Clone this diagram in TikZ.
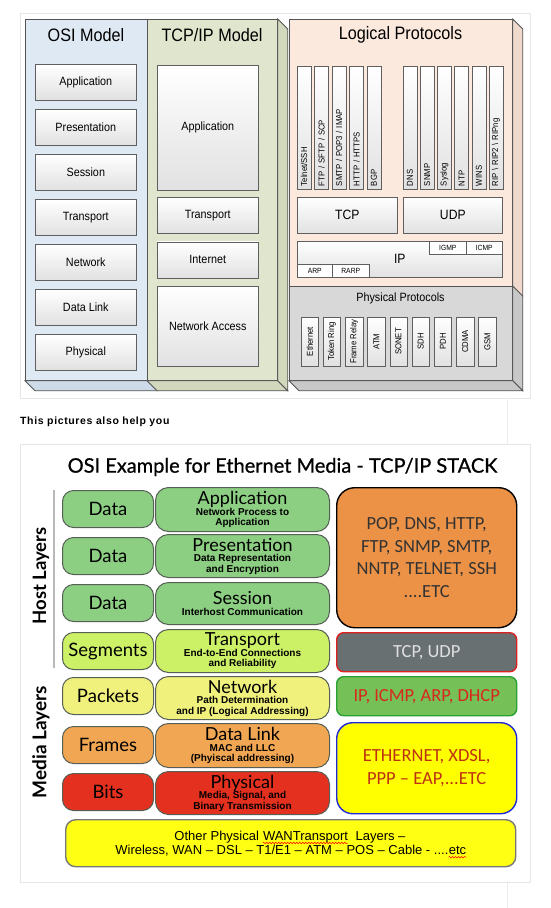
\documentclass[tikz,border=0pt]{standalone}
\usepackage{fontspec}
\setmainfont{Liberation Sans}[FakeStretch=0.9]
\newfontfamily\arialfont{Liberation Sans}
\newfontfamily\spacedfont{Liberation Sans}[LetterSpace=6.0]
\newfontfamily\gill{Lato}
\newfontfamily\gillheavy{Lato}[FakeBold=0.8]
\newfontfamily\calib{Carlito}
\usepackage{tikz}
\usetikzlibrary{positioning}
\usetikzlibrary{decorations.pathmorphing}

\definecolor{framegray}{RGB}{230,230,230}
\definecolor{pageline}{RGB}{236,236,236}
\definecolor{panelline}{RGB}{85,85,85}
\definecolor{boxline}{RGB}{95,95,95}
\definecolor{boxgray}{RGB}{225,225,225}
\definecolor{osiblue}{RGB}{222,233,244}
\definecolor{osiside}{RGB}{205,218,232}
\definecolor{tcpolive}{RGB}{224,229,205}
\definecolor{tcpside}{RGB}{210,216,188}
\definecolor{logpeach}{RGB}{251,233,222}
\definecolor{logside}{RGB}{240,218,205}
\definecolor{physgray}{RGB}{216,216,216}
\definecolor{physside}{RGB}{200,200,200}
\definecolor{layerline}{RGB}{85,95,85}
\definecolor{hostgreen}{RGB}{140,206,130}
\definecolor{translime}{RGB}{204,240,102}
\definecolor{netyellow}{RGB}{240,240,125}
\definecolor{linkorange}{RGB}{240,166,82}
\definecolor{phyred}{RGB}{228,48,30}
\definecolor{appsorange}{RGB}{236,146,70}
\definecolor{tcpgray}{RGB}{104,112,114}
\definecolor{tcpred}{RGB}{222,32,32}
\definecolor{ipgreen}{RGB}{118,192,88}
\definecolor{ipborder}{RGB}{40,160,50}
\definecolor{ipred}{RGB}{215,40,30}
\definecolor{ethyellow}{RGB}{255,255,0}
\definecolor{ethblue}{RGB}{30,40,215}
\definecolor{ethred}{RGB}{190,50,20}
\definecolor{wanyellow}{RGB}{255,255,20}
\definecolor{wanborder}{RGB}{120,120,120}

% layer names in the second picture
\newcommand{\lnamefont}{\gill\mdseries\fontsize{18}{18}\selectfont}

\begin{document}
\begin{tikzpicture}[x=1pt,y=-1pt,
  panel/.style={draw=panelline,line width=0.8pt,anchor=north west,inner sep=0pt},
  side/.style={draw=panelline,line width=0.8pt},
  paneltitle/.style={font=\fontsize{18}{20}\selectfont},
  osibox/.style={draw=boxline,line width=0.6pt,top color=white,bottom color=boxgray,minimum width=101pt,minimum height=36pt,inner sep=0pt,anchor=north west,font=\fontsize{12}{14}\selectfont},
  protobox/.style={osibox,font=\fontsize{13.5}{16}\selectfont},
  tinybox/.style={draw=boxline,line width=0.5pt,fill=white,minimum height=13pt,inner sep=0pt,anchor=north west,font=\fontsize{7.5}{8}\selectfont},
  vbox/.style={draw=boxline,line width=0.5pt,top color=white,bottom color=boxgray,rotate=90,minimum width=123pt,minimum height=14pt,text width=117pt,align=left,inner xsep=3pt,inner ysep=0pt,font=\fontsize{8.6}{9}\selectfont},
  pbox/.style={draw=boxline,line width=0.5pt,top color=white,bottom color=boxgray,rotate=90,minimum width=49pt,minimum height=17.5pt,inner sep=0.5pt,font=\fontsize{8.6}{9}\selectfont},
  pdu/.style={draw=layerline,line width=1pt,rounded corners=11pt,minimum width=91pt,minimum height=37pt,inner sep=0pt,anchor=north west,font=\gill\fontsize{18.5}{19}\selectfont},
  layer/.style={draw=layerline,line width=1pt,rounded corners=13pt,minimum width=174pt,minimum height=43pt,inner sep=0pt,anchor=north west,align=center,font=\arialfont\bfseries\fontsize{10}{10.5}\selectfont},
  proto/.style={line width=1.4pt,rounded corners=7pt,minimum width=180pt,inner sep=0pt,anchor=north west,align=center,font=\calib\fontsize{18.5}{22.5}\selectfont},
  wantext/.style={inner sep=0pt,font=\arialfont\fontsize{13}{14}\selectfont},
  spellwave/.style={red,line width=0.5pt,decorate,decoration={snake,amplitude=0.8pt,segment length=3pt}}]

  \useasboundingbox (0,0) rectangle (550,908);

  %% first picture
  \draw[framegray,line width=1pt,fill=white] (20,13) rectangle (530,398);
  \draw[pageline,line width=0.8pt] (507,398) -- (507,444);
  \draw[pageline,line width=0.8pt] (507,882) -- (507,908);

  \node[panel,fill=osiblue,minimum width=122pt,minimum height=361pt] (osi) at (25,19) {};
  \node[panel,fill=tcpolive,minimum width=130pt,minimum height=361pt] (tcpip) at (147,19) {};
  \node[panel,fill=logpeach,minimum width=223pt,minimum height=267pt] (logic) at (289,19) {};
  \node[panel,fill=physgray,minimum width=223pt,minimum height=94pt] (phys) at (289,286) {};

  \filldraw[side,fill=osiside] (osi.south west) -- ++(10,10) -- ([shift={(10,10)}]osi.south east) -- (osi.south east) -- cycle;
  \filldraw[side,fill=tcpside] (tcpip.south west) -- ++(10,10) -- ([shift={(10,10)}]tcpip.south east) -- (tcpip.south east) -- cycle;
  \filldraw[side,fill=tcpside] (tcpip.north east) -- ++(10,10) -- ([shift={(10,10)}]tcpip.south east) -- (tcpip.south east) -- cycle;
  \filldraw[side,fill=logside] (logic.north east) -- ++(10,10) -- ([shift={(10,10)}]logic.south east) -- (logic.south east) -- cycle;
  \filldraw[side,fill=physside] (phys.north east) -- ++(10,10) -- ([shift={(10,10)}]phys.south east) -- (phys.south east) -- cycle;
  \filldraw[side,fill=physside] (phys.south west) -- ++(10,10) -- ([shift={(10,10)}]phys.south east) -- (phys.south east) -- cycle;

  \node[paneltitle] (ositext) at (86,35) {OSI Model};
  \node[paneltitle] (tcptext) at (212,35) {TCP/IP Model};
  \node[paneltitle] (logtext) at (400.5,35) {Logical Protocols};
  \node[font=\fontsize{12}{14}\selectfont] (phystext) at (400.5,298) {Physical Protocols};

  \node[osibox] (oapp) at (35,64) {Application};
  \node[osibox,below=8.4pt of oapp] (opres) {Presentation};
  \node[osibox,below=8.4pt of opres] (osess) {Session};
  \node[osibox,below=8.4pt of osess] (otrans) {Transport};
  \node[osibox,below=8.4pt of otrans] (onet) {Network};
  \node[osibox,below=8.4pt of onet] (olink) {Data Link};
  \node[osibox,below=8.4pt of olink] (ophys) {Physical};

  \node[osibox,minimum height=125pt] (tapp) at (157,65) {Application};
  \node[osibox] (ttrans) at (157,197.2) {Transport};
  \node[osibox] (tinet) at (157,241.6) {Internet};
  \node[osibox,minimum height=80.4pt] (tnet) at (157,286) {Network Access};

  \node[vbox] (telnet) at (304,127.5) {Telnet/SSH};
  \node[vbox] (ftp) at (321.5,127.5) {FTP / SFTP / SCP};
  \node[vbox] (smtp) at (339,127.5) {SMTP / POP3 / IMAP};
  \node[vbox] (http) at (356.5,127.5) {HTTP / HTTPS};
  \node[vbox] (bgp) at (374,127.5) {BGP};
  \node[vbox] (dns) at (410,127.5) {DNS};
  \node[vbox] (snmp) at (427.2,127.5) {SNMP};
  \node[vbox] (syslog) at (444.4,127.5) {Syslog};
  \node[vbox] (ntp) at (461.6,127.5) {NTP};
  \node[vbox] (wins) at (478.8,127.5) {WINS};
  \node[vbox] (rip) at (496,127.5) {RIP \textbackslash\ RIP2 \textbackslash\ RIPng};

  \node[protobox,minimum width=100pt] (tcp) at (297,197) {TCP};
  \node[protobox,minimum width=99pt] (udp) at (403,197) {UDP};
  \node[protobox,minimum width=205pt] (ip) at (297,241) {IP};
  \node[tinybox,minimum width=37pt] (igmp) at (429,241) {IGMP};
  \node[tinybox,minimum width=36pt] (icmp) at (466,241) {ICMP};
  \node[tinybox,minimum width=35pt] (arp) at (297,264) {ARP};
  \node[tinybox,minimum width=37pt] (rarp) at (332,264) {RARP};

  \node[pbox] (ethernet) at (309.7,341.5) {Ethernet};
  \node[pbox] (token) at (331.9,341.5) {Token Ring};
  \node[pbox] (frame) at (354.1,341.5) {Frame Relay};
  \node[pbox] (atm) at (376.3,341.5) {ATM};
  \node[pbox] (sonet) at (398.5,341.5) {SONET};
  \node[pbox] (sdh) at (420.7,341.5) {SDH};
  \node[pbox] (pdh) at (442.9,341.5) {PDH};
  \node[pbox] (cdma) at (465.1,341.5) {CDMA};
  \node[pbox] (gsm) at (487.3,341.5) {GSM};

  \node[anchor=west,inner sep=0pt,font=\spacedfont\bfseries\fontsize{10.5}{12}\selectfont] (help) at (20,422) {This pictures also help you};

  %% second picture
  \draw[framegray,line width=1pt,fill=white] (20,444) rectangle (530,882);
  \node[font=\gillheavy\fontsize{20}{21}\selectfont] (stack) at (282.5,467) {OSI Example for Ethernet Media - TCP/IP STACK};

  \node[rotate=90,font=\gill\bfseries\fontsize{18.5}{20}\selectfont] (host) at (41,576) {Host Layers};
  \node[rotate=90,font=\gill\bfseries\fontsize{19}{20}\selectfont] (media) at (41,742) {Media Layers};
  \draw[gray!55,line width=1.5pt] (54,490) -- (54,668);

  \node[pdu,fill=hostgreen] (data1) at (62,490) {Data};
  \node[pdu,fill=hostgreen] (data2) at (62,537) {Data};
  \node[pdu,fill=hostgreen] (data3) at (62,584) {Data};
  \node[pdu,fill=translime] (seg) at (62,632) {Segments};
  \node[pdu,fill=netyellow] (pack) at (62,677) {Packets};
  \node[pdu,fill=linkorange] (frames) at (62,726) {Frames};
  \node[pdu,fill=phyred] (bits) at (62,773) {Bits};

  \node[layer,fill=hostgreen,minimum height=44pt] (app) at (155,487) {{\lnamefont Application}\\Network Process to\\Application};
  \node[layer,fill=hostgreen] (pres) at (155,534) {{\lnamefont Presentation}\\Data Representation\\and Encryption};
  \node[layer,fill=hostgreen,minimum height=42pt] (sess) at (155,582) {{\lnamefont Session}\\[1pt]Interhost Communication};
  \node[layer,fill=translime] (trans) at (155,629) {{\lnamefont Transport}\\End-to-End Connections\\and Reliability};
  \node[layer,fill=netyellow] (net) at (155,676) {{\lnamefont Network}\\Path Determination\\and IP (Logical Addressing)};
  \node[layer,fill=linkorange,minimum height=44pt] (link) at (155,723) {{\lnamefont Data Link}\\MAC and LLC\\(Phyiscal addressing)};
  \node[layer,fill=phyred] (phy) at (155,771) {{\lnamefont Physical}\\Media, Signal, and\\Binary Transmission};

  \node[proto,draw=black,fill=appsorange,rounded corners=18pt,minimum height=140pt,text=black!80] (apps) at (336,487) {POP, DNS, HTTP,\\FTP, SNMP, SMTP,\\NNTP, TELNET, SSH\\....ETC};
  \node[proto,draw=tcpred,fill=tcpgray,minimum height=39pt,text=white!88!black] (tcpudp) at (336,632) {TCP, UDP};
  \node[proto,draw=ipborder,fill=ipgreen,minimum height=39pt,text=ipred] (iplist) at (336,676) {IP, ICMP, ARP, DHCP};
  \node[proto,draw=ethblue,fill=ethyellow,rounded corners=16pt,minimum height=91pt,text=ethred] (ether) at (336,722) {ETHERNET, XDSL,\\PPP – EAP,...ETC};

  \node[proto,draw=wanborder,fill=wanyellow,rounded corners=10pt,minimum width=450pt,minimum height=47pt] (wan) at (65,819) {};
  \node[wantext,anchor=base] (wantr) at (305.5,840.5) {WANTransport};
  \node[wantext,anchor=base east] (wanl1a) at ([xshift=-3.6pt]wantr.base west) {Other Physical};
  \node[wantext,anchor=base west] (wanl1b) at ([xshift=7.2pt]wantr.base east) {Layers –};
  \node[wantext,anchor=base east] (wanl2a) at (448.6,854.7) {Wireless, WAN – DSL – T1/E1 – ATM – POS – Cable - ....};
  \node[wantext,anchor=base west] (wanetc) at (wanl2a.base east) {etc};
  \draw[spellwave] ([yshift=-2.5pt]wantr.base west) -- ([yshift=-2.5pt]wantr.base east);
  \draw[spellwave] ([yshift=-2.5pt]wanetc.base west) -- ([yshift=-2.5pt]wanetc.base east);
\end{tikzpicture}
\end{document}
